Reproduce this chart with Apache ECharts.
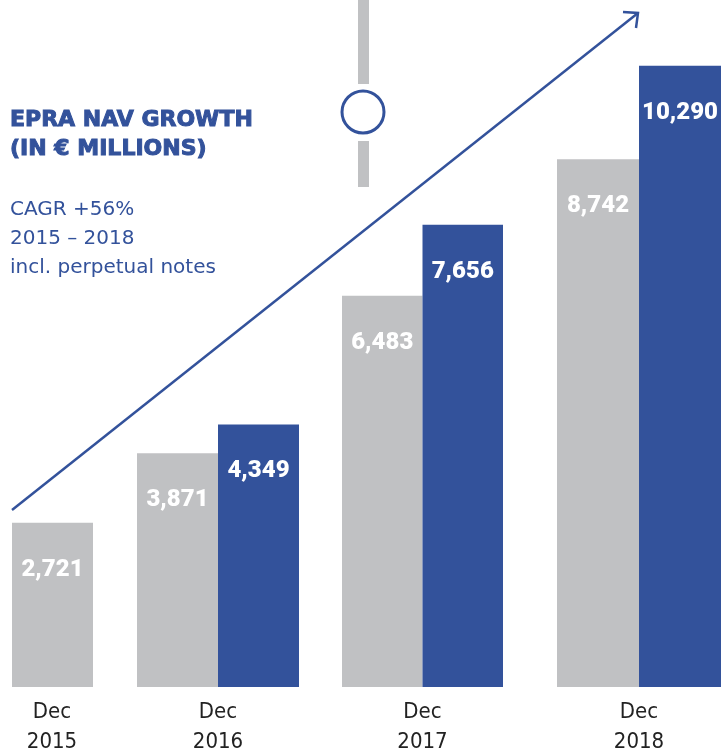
<!DOCTYPE html>
<html>
<head>
<meta charset="utf-8">
<script src="https://cdn.jsdelivr.net/npm/echarts@6/dist/echarts.min.js"></script>
<style>
  html, body { margin: 0; padding: 0; background: #fff; }
  #chart { width: 721px; height: 752px; }
</style>
</head>
<body>
<div id="chart"></div>
<script>
// EPRA NAV growth, € millions. Grey = EPRA NAV, blue = incl. perpetual notes.
const periods = ['Dec\n2015', 'Dec\n2016', 'Dec\n2017', 'Dec\n2018'];
const navValues = [2721, 3871, 6483, 8742];
const navInclNotes = [null, 4349, 7656, 10290];

const GREY = '#c0c1c3';
const BLUE = '#33529b';
const Y_MAX = 11000;

// one small grid per period so the groups keep their uneven spacing
const slots = [
  { left: 12, width: 162, labelPad: [0, 82, 0, 0] },
  { left: 137, width: 162, labelPad: 0 },
  { left: 342, width: 161, labelPad: 0 },
  { left: 557, width: 164, labelPad: 0 },
];

const valueLabel = {
  show: true, position: 'insideTop', distance: 35,
  color: '#fff', fontFamily: 'Roboto', fontWeight: 900, fontSize: 24,
  formatter: (p) => p.value.toLocaleString('en-US'),
};

const grid = slots.map(s => ({ left: s.left, width: s.width, top: 23, bottom: 65, outerBoundsMode: 'none' }));
const xAxis = slots.map((s, i) => ({
  type: 'category', gridIndex: i, data: [periods[i]],
  axisLine: { show: false }, axisTick: { show: false },
  axisLabel: { margin: 10, color: '#222', fontFamily: 'Liberation Sans Narrow, DejaVu Sans Condensed, sans-serif',
    fontSize: 22, lineHeight: 30, padding: s.labelPad },
}));
const yAxis = slots.map((s, i) => ({
  type: 'value', gridIndex: i, min: 0, max: Y_MAX, show: false, splitLine: { show: false },
}));
const series = [];
slots.forEach((s, i) => {
  series.push({ type: 'bar', xAxisIndex: i, yAxisIndex: i, data: [navValues[i]],
    itemStyle: { color: GREY }, barGap: '0%', barCategoryGap: '0%', label: valueLabel, silent: true });
  series.push({ type: 'bar', xAxisIndex: i, yAxisIndex: i, data: [navInclNotes[i]],
    itemStyle: { color: BLUE }, barGap: '0%', barCategoryGap: '0%', label: valueLabel, silent: true });
});

const chart = echarts.init(document.getElementById('chart'), null, { renderer: 'canvas' });
chart.setOption({
  animation: false,
  title: {
    text: 'EPRA NAV GROWTH\n(IN € MILLIONS)',
    subtext: 'CAGR +56%\n2015 – 2018\nincl. perpetual notes',
    left: 10, top: 106, padding: 0, itemGap: 31,
    textStyle: { color: BLUE, fontFamily: 'DejaVu Sans', fontWeight: 'bold', fontSize: 22, lineHeight: 29,
      textBorderColor: BLUE, textBorderWidth: 1 },
    subtextStyle: { color: BLUE, fontFamily: 'DejaVu Sans', fontSize: 20, lineHeight: 29 },
  },
  grid, xAxis, yAxis, series,
  graphic: [
    // growth arrow
    { type: 'line', shape: { x1: 12, y1: 510, x2: 638, y2: 13 }, style: { stroke: BLUE, lineWidth: 2.5 }, z: 10 },
    { type: 'polyline', shape: { points: [[623, 12], [638, 13], [636, 28]] }, style: { stroke: BLUE, lineWidth: 2.5, fill: null }, z: 10 },
    // decorative divider
    { type: 'rect', shape: { x: 358, y: 0, width: 11, height: 84 }, style: { fill: GREY } },
    { type: 'rect', shape: { x: 358, y: 141, width: 11, height: 46 }, style: { fill: GREY } },
    { type: 'circle', shape: { cx: 363, cy: 112, r: 21 }, style: { fill: '#fff', stroke: BLUE, lineWidth: 3 } },
  ],
});
</script>
</body>
</html>
